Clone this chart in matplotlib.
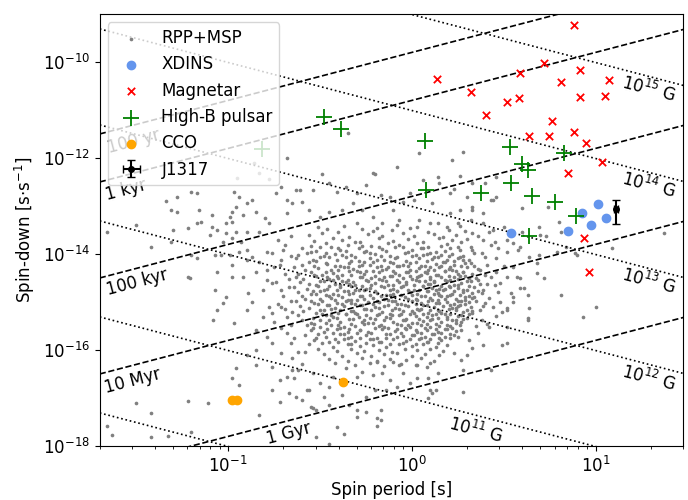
import matplotlib
matplotlib.use('Agg')
import matplotlib.pyplot as plt
import matplotlib.ticker as mticker
import numpy as np

plt.rcParams['font.size'] = 12

# ---- special sources (P [s], Pdot [s/s]) ----
xdins_p = [3.45, 7.06, 8.39, 9.43, 10.31, 11.37]
xdins_pd = [2.8e-14, 2.97e-14, 6.98e-14, 4.1e-14, 1.12e-13, 5.5e-14]

mag_p = [7.68, 5.26, 3.89, 8.18, 1.37, 6.52, 11.9, 2.10, 3.30, 3.84, 8.18,
         11.2, 2.54, 5.82, 4.36, 5.61, 7.68, 8.82, 10.8, 7.12, 8.6, 9.16]
mag_pd = [5.9e-10, 9.5e-11, 5.9e-11, 6.8e-11, 4.4e-11, 3.8e-11, 4.2e-11,
          2.4e-11, 1.47e-11, 1.78e-11, 1.87e-11, 1.96e-11, 7.9e-12, 5.9e-12,
          2.9e-12, 2.9e-12, 3.5e-12, 2.05e-12, 8.3e-13, 4.9e-13, 2.15e-14, 4.2e-15]

highb_p = [0.153, 0.331, 0.414, 1.18, 1.19, 2.38, 3.43, 3.99, 4.30, 3.48,
           4.53, 6.04, 6.77, 7.87, 4.36]
highb_pd = [1.54e-12, 7.1e-12, 4.0e-12, 2.26e-12, 2.15e-13, 1.87e-13, 1.69e-12,
            7.5e-13, 5.6e-13, 3.0e-13, 1.62e-13, 1.21e-13, 1.27e-12, 6.2e-14, 2.37e-14]

cco_p = [0.105, 0.112, 0.424]
cco_pd = [8.9e-18, 9.3e-18, 2.2e-17]

j1317_p, j1317_perr = 12.9, 0.3
j1317_pd, j1317_pderr = 8.8e-14, 4.6e-14

# ---- RPP+MSP population, (log10 P, log10 Pdot) ----
rpp_left = [
    (-1.28, -12.81), (-1.20, -12.71), (-1.17, -12.73), (-1.34, -12.90), (-1.31, -13.08),
    (-1.28, -13.13), (-1.16, -13.08), (-1.09, -13.19), (-0.97, -12.71), (-0.94, -12.81),
    (-0.96, -13.02), (-0.98, -13.13), (-0.90, -12.94), (-0.87, -12.88), (-0.92, -13.19),
    (-0.99, -13.23), (-1.01, -13.35), (-0.98, -13.33), (-0.85, -13.13), (-0.80, -13.25),
    (-0.74, -12.73), (-0.71, -12.60), (-0.63, -12.67), (-0.68, -12.88), (-0.78, -13.35),
    (-0.83, -13.54), (-1.66, -13.54), (-1.50, -13.40), (-1.30, -13.50), (-1.31, -13.75),
    (-1.22, -13.46), (-1.17, -13.35), (-1.15, -13.33), (-1.09, -13.44), (-1.10, -13.60),
    (-1.06, -13.50), (-1.01, -13.56), (-0.96, -13.54), (-0.98, -13.67), (-0.93, -13.75),
    (-0.90, -13.54), (-1.03, -13.75), (-1.07, -14.02), (-1.04, -14.02), (-0.99, -14.02),
    (-1.42, -13.85), (-1.20, -14.02), (-1.17, -14.08), (-1.22, -14.48), (-1.21, -14.50),
    (-0.98, -14.23), (-0.94, -13.96), (-0.90, -13.92), (-0.90, -14.13), (-0.87, -14.06),
    (-0.83, -14.17), (-0.79, -13.96), (-0.76, -13.98), (-0.70, -13.92), (-0.71, -14.13),
    (-0.75, -14.27), (-0.79, -14.33), (-0.85, -14.38), (-0.92, -14.48), (-0.98, -14.48),
    (-1.06, -14.38), (-1.07, -14.75), (-1.01, -14.90), (-1.03, -15.02), (-1.06, -15.17),
    (-1.08, -15.38), (-0.97, -15.44), (-0.90, -15.17), (-0.87, -15.00), (-0.89, -14.81),
    (-0.81, -14.75), (-0.79, -14.54), (-0.76, -14.60), (-0.71, -14.75), (-0.67, -14.69),
    (-0.78, -15.10), (-0.81, -15.31), (-0.76, -15.23), (-0.71, -15.10), (-0.68, -15.31),
    (-0.65, -15.21), (-0.85, -15.58), (-0.79, -15.73), (-0.76, -15.85), (-0.68, -15.65),
    (-0.66, -15.85), (-0.71, -16.06), (-0.65, -16.17), (-0.85, -16.00), (-0.90, -16.10),
    (-0.96, -16.38), (-0.98, -16.58), (-0.94, -16.73), (-0.85, -16.31), (-0.76, -16.35),
    (-0.72, -16.63), (-0.76, -16.83), (-0.68, -16.56), (-0.65, -16.42), (-0.67, -16.90),
    (-0.72, -17.08), (-0.63, -16.98), (-0.83, -17.35), (-1.50, -17.10), (-1.42, -17.31),
    (-1.22, -17.06), (-1.11, -17.10), (-1.63, -17.77), (-1.42, -17.81), (-1.33, -17.79),
    (-1.66, -17.58), (-1.20, -17.71), (-0.68, -12.00), (-0.86, -12.10), (-0.83, -12.31),
    (-0.78, -12.44), (-0.95, -12.42),
]

rpp_upper = [
    (0.04, -11.90), (-0.08, -12.19), (0.28, -11.88), (0.22, -12.04), (0.26, -12.38),
    (-0.49, -12.33), (-0.20, -12.33), (-0.35, -11.48), (0.33, -12.52), (0.15, -12.52),
    (0.14, -12.40), (0.06, -12.46), (0.23, -12.65), (0.30, -12.81), (0.40, -12.52),
    (0.46, -12.81), (0.43, -12.88), (0.33, -13.08), (0.26, -13.08), (0.21, -13.15),
    (0.11, -12.94), (0.01, -12.88), (-0.01, -12.73), (-0.05, -12.92), (-0.12, -12.81),
    (-0.17, -12.77), (-0.21, -12.31), (-0.25, -12.56), (-0.30, -12.73), (-0.36, -12.60),
    (-0.41, -12.71), (-0.45, -12.52), (-0.54, -12.67), (-0.61, -12.67), (-0.65, -12.94),
    (-0.60, -12.92), (-0.68, -13.15), (-0.56, -13.08), (-0.50, -13.23), (-0.45, -13.13),
    (-0.38, -13.08), (-0.32, -12.94), (-0.27, -13.08), (-0.21, -13.23), (-0.16, -13.35),
    (-0.10, -13.08), (-0.07, -13.29), (0.04, -13.29), (0.10, -13.35), (0.19, -13.44),
    (0.25, -13.35), (0.32, -13.29), (0.39, -13.35), (0.44, -13.50), (0.50, -13.44),
    (0.52, -13.71), (0.21, -12.73), (0.33, -13.02), (0.39, -13.15), (0.46, -12.40),
    (0.44, -12.88), (0.60, -13.04), (0.74, -13.02),
]

rpp_right = [
    (0.80, -13.33), (0.70, -13.60), (0.60, -13.54), (0.58, -13.92), (0.52, -13.96),
    (0.64, -14.06), (0.68, -14.19), (0.55, -14.27), (0.52, -14.48), (0.57, -14.48),
    (0.68, -14.40), (0.72, -14.50), (0.59, -14.71), (0.54, -14.81), (0.63, -14.85),
    (0.49, -15.21), (0.52, -15.17), (0.63, -15.38), (0.52, -15.52), (0.49, -15.90),
    (0.52, -15.85), (0.30, -16.10), (0.23, -16.06), (0.28, -16.42), (0.14, -16.48),
    (0.13, -16.83), (0.28, -16.88), (0.43, -16.42), (0.81, -14.85), (0.90, -14.02),
    (0.79, -13.96), (0.39, -13.71), (0.43, -13.81), (0.33, -13.92), (0.40, -14.06),
    (0.46, -14.08), (0.45, -13.75), (0.32, -14.19), (0.37, -14.33), (0.43, -14.48),
    (0.36, -14.54), (0.45, -14.65), (0.39, -14.75), (0.34, -14.90), (0.42, -14.92),
    (0.44, -15.10), (0.37, -15.17), (0.33, -15.23), (0.38, -15.38), (0.42, -15.52),
    (0.36, -15.65), (0.31, -15.79), (0.25, -15.73), (0.27, -15.58), (0.39, -15.90),
    (0.69, -13.44), (0.73, -13.63), (0.81, -13.54), (0.84, -13.85), (0.89, -13.98),
    (1.09, -13.88), (1.37, -13.56), (0.55, -13.77), (0.59, -13.85), (0.69, -14.02),
    (0.59, -14.50), (0.61, -14.71), (0.55, -14.90), (0.55, -15.00), (0.52, -15.13),
    (0.64, -15.13), (0.63, -15.33), (0.93, -15.31), (1.00, -15.10),
]

rpp_lower = [
    (-0.64, -16.58), (-0.58, -16.04), (-0.57, -16.83), (-0.60, -17.04), (-0.55, -17.19),
    (-0.52, -17.25), (-0.48, -16.98), (-0.45, -17.15), (-0.38, -16.94), (-0.34, -17.15),
    (-0.30, -17.40), (-0.25, -17.29), (-0.19, -17.42), (-0.19, -17.58), (-0.37, -17.75),
    (-0.45, -17.96), (-0.52, -17.81), (-0.25, -16.98), (-0.20, -16.83), (-0.12, -16.63),
    (-0.05, -16.48), (0.03, -16.58), (0.09, -16.58), (0.08, -16.35), (0.03, -16.31),
    (-0.07, -16.31), (-0.16, -16.48), (-0.21, -16.52), (-0.30, -16.56), (-0.45, -16.77),
    (-0.50, -16.69), (-0.56, -16.83), (-0.62, -16.42), (-0.54, -16.48), (-0.43, -16.56),
    (-0.36, -16.38), (-0.27, -16.46), (-0.19, -16.25), (-0.10, -16.25), (-0.14, -16.83),
    (-0.08, -16.77), (-0.01, -16.69), (0.10, -16.83), (0.11, -16.90), (0.09, -17.00),
    (-0.17, -17.25), (-0.17, -17.46), (-0.54, -17.21), (-0.41, -17.60), (-0.30, -17.25),
]

# points along the left and right edge of the dense core
rpp_edge = [
    (-0.66, -14.05), (-0.72, -14.22), (-0.69, -14.41), (-0.74, -14.58), (-0.67, -14.52),
    (-0.70, -14.88), (-0.66, -14.97), (-0.73, -15.04), (-0.69, -15.15), (-0.75, -15.42),
    (-0.66, -15.47), (-0.71, -15.55), (-0.64, -15.75), (-0.69, -13.81), (-0.73, -13.70),
    (-0.66, -13.62), (-0.62, -16.05), (-0.60, -16.30),
    (0.38, -13.97), (0.41, -14.22), (0.46, -14.37), (0.40, -14.44), (0.48, -14.60),
    (0.41, -14.63), (0.38, -14.82), (0.47, -14.80), (0.40, -15.02), (0.48, -15.00),
    (0.39, -15.09), (0.46, -15.30), (0.41, -15.45), (0.35, -15.50), (0.33, -15.95),
    (0.27, -16.20), (0.50, -14.25), (0.36, -13.62), (0.42, -13.55), (0.47, -13.88),
]

# dense core, row by row
core_lp = [
    [-0.51, -0.37, -0.30, -0.19, -0.08, 0.03, 0.14, 0.26],
    [-0.46, -0.40, -0.27, -0.21, -0.11, -0.01, 0.09, 0.20, 0.29],
    [-0.56, -0.49, -0.34, -0.24, -0.16, -0.05, 0.01, 0.12, 0.17, 0.24, 0.33],
    [-0.53, -0.43, -0.38, -0.28, -0.18, -0.10, -0.02, 0.06, 0.15, 0.22, 0.30],
    [-0.55, -0.47, -0.35, -0.31, -0.22, -0.13, -0.07, 0.03, 0.09, 0.19, 0.27],
    [-0.60, -0.52, -0.44, -0.39, -0.29, -0.25, -0.16, -0.09, 0.00, 0.05, 0.13, 0.21, 0.26, 0.32],
    [-0.62, -0.57, -0.48, -0.42, -0.33, -0.26, -0.20, -0.12, -0.04, 0.02, 0.10, 0.16, 0.22, 0.28, 0.34],
    [-0.63, -0.54, -0.50, -0.41, -0.36, -0.29, -0.23, -0.15, -0.08, -0.03, 0.04, 0.11, 0.14, 0.19, 0.25, 0.31],
    [-0.60, -0.56, -0.46, -0.39, -0.34, -0.27, -0.21, -0.17, -0.10, -0.05, 0.02, 0.07, 0.13, 0.18, 0.23, 0.29, 0.34],
    [-0.64, -0.58, -0.51, -0.44, -0.37, -0.32, -0.25, -0.19, -0.14, -0.07, -0.01, 0.04, 0.09, 0.15, 0.20, 0.24, 0.30, 0.36],
    [-0.62, -0.55, -0.49, -0.43, -0.38, -0.30, -0.26, -0.18, -0.12, -0.09, -0.02, 0.05, 0.08, 0.13, 0.18, 0.25, 0.28, 0.33],
    [-0.63, -0.59, -0.52, -0.45, -0.40, -0.35, -0.28, -0.22, -0.16, -0.11, -0.05, 0.00, 0.03, 0.10, 0.16, 0.21, 0.26, 0.31, 0.35],
    [-0.61, -0.56, -0.48, -0.42, -0.36, -0.31, -0.24, -0.20, -0.13, -0.07, -0.03, 0.04, 0.09, 0.12, 0.19, 0.23, 0.27, 0.32, 0.37],
    [-0.64, -0.57, -0.51, -0.46, -0.39, -0.33, -0.29, -0.23, -0.17, -0.10, -0.06, 0.01, 0.06, 0.11, 0.15, 0.20, 0.25, 0.30, 0.34],
    [-0.62, -0.55, -0.50, -0.43, -0.37, -0.32, -0.26, -0.19, -0.14, -0.08, -0.01, 0.03, 0.08, 0.14, 0.17, 0.22, 0.28, 0.33, 0.36],
    [-0.60, -0.58, -0.47, -0.44, -0.38, -0.30, -0.27, -0.21, -0.15, -0.12, -0.04, 0.02, 0.07, 0.10, 0.16, 0.21, 0.24, 0.29, 0.33],
    [-0.63, -0.53, -0.49, -0.41, -0.35, -0.31, -0.24, -0.18, -0.11, -0.06, 0.00, 0.05, 0.11, 0.13, 0.19, 0.23, 0.27, 0.31, 0.35],
    [-0.61, -0.56, -0.46, -0.42, -0.37, -0.28, -0.25, -0.20, -0.13, -0.09, -0.02, 0.03, 0.06, 0.12, 0.17, 0.22, 0.26, 0.32],
    [-0.59, -0.52, -0.48, -0.40, -0.33, -0.30, -0.22, -0.16, -0.12, -0.05, 0.01, 0.04, 0.09, 0.15, 0.18, 0.24, 0.28, 0.33],
    [-0.62, -0.54, -0.47, -0.43, -0.36, -0.29, -0.23, -0.19, -0.14, -0.07, -0.03, 0.02, 0.08, 0.13, 0.19, 0.25, 0.30],
    [-0.60, -0.55, -0.45, -0.39, -0.34, -0.27, -0.21, -0.15, -0.10, -0.04, 0.00, 0.06, 0.11, 0.16, 0.22, 0.27],
    [-0.57, -0.50, -0.44, -0.37, -0.31, -0.26, -0.18, -0.13, -0.06, -0.01, 0.05, 0.10, 0.15, 0.21, 0.26],
    [-0.55, -0.48, -0.41, -0.35, -0.28, -0.22, -0.16, -0.09, -0.03, 0.03, 0.08, 0.14, 0.19, 0.24],
    [-0.58, -0.47, -0.39, -0.33, -0.25, -0.19, -0.12, -0.05, 0.01, 0.07, 0.12, 0.18, 0.23],
    [-0.53, -0.45, -0.37, -0.31, -0.23, -0.17, -0.10, -0.03, 0.04, 0.09, 0.16, 0.21],
    [-0.56, -0.43, -0.35, -0.28, -0.21, -0.14, -0.07, 0.00, 0.06, 0.13, 0.19],
    [-0.51, -0.41, -0.33, -0.26, -0.18, -0.11, -0.04, 0.03, 0.10, 0.17],
    [-0.48, -0.38, -0.30, -0.22, -0.15, -0.08, 0.00, 0.07, 0.15],
    [-0.45, -0.35, -0.27, -0.19, -0.12, -0.03, 0.05, 0.12],
    [-0.42, -0.31, -0.23, -0.15, -0.06, 0.02, 0.10],
]
core_lpd = [
    [-13.44, -13.41, -13.35, -13.46, -13.39, -13.43, -13.36, -13.42],
    [-13.48, -13.55, -13.47, -13.53, -13.50, -13.46, -13.54, -13.49, -13.52],
    [-13.61, -13.57, -13.64, -13.59, -13.63, -13.56, -13.62, -13.58, -13.65, -13.60, -13.57],
    [-13.73, -13.66, -13.71, -13.74, -13.67, -13.72, -13.69, -13.75, -13.66, -13.71, -13.68],
    [-13.83, -13.77, -13.82, -13.76, -13.84, -13.78, -13.81, -13.77, -13.85, -13.80, -13.76],
    [-13.88, -13.93, -13.86, -13.91, -13.87, -13.94, -13.90, -13.86, -13.92, -13.88, -13.95, -13.87, -13.91, -13.85],
    [-14.02, -13.97, -14.04, -13.99, -14.03, -13.96, -14.01, -14.05, -13.98, -14.03, -13.97, -14.02, -13.99, -14.04, -13.98],
    [-14.08, -14.13, -14.07, -14.12, -14.06, -14.14, -14.09, -14.12, -14.07, -14.15, -14.08, -14.11, -14.06, -14.13, -14.09, -14.12],
    [-14.22, -14.17, -14.21, -14.25, -14.18, -14.23, -14.16, -14.24, -14.19, -14.22, -14.17, -14.25, -14.20, -14.16, -14.23, -14.18, -14.24],
    [-14.27, -14.33, -14.29, -14.34, -14.27, -14.31, -14.35, -14.28, -14.32, -14.26, -14.34, -14.29, -14.33, -14.27, -14.31, -14.35, -14.28, -14.32],
    [-14.41, -14.37, -14.44, -14.39, -14.43, -14.36, -14.42, -14.38, -14.45, -14.40, -14.37, -14.43, -14.39, -14.44, -14.36, -14.42, -14.38, -14.41],
    [-14.48, -14.53, -14.46, -14.52, -14.49, -14.55, -14.47, -14.51, -14.54, -14.46, -14.50, -14.53, -14.47, -14.52, -14.48, -14.55, -14.46, -14.51, -14.49],
    [-14.59, -14.63, -14.57, -14.62, -14.58, -14.64, -14.56, -14.61, -14.65, -14.58, -14.62, -14.57, -14.63, -14.59, -14.56, -14.64, -14.60, -14.57, -14.62],
    [-14.68, -14.72, -14.66, -14.73, -14.69, -14.67, -14.74, -14.70, -14.66, -14.72, -14.68, -14.75, -14.67, -14.71, -14.73, -14.66, -14.70, -14.74, -14.68],
    [-14.79, -14.83, -14.77, -14.84, -14.78, -14.82, -14.76, -14.81, -14.85, -14.77, -14.80, -14.84, -14.78, -14.82, -14.76, -14.83, -14.79, -14.81, -14.77],
    [-14.88, -14.93, -14.86, -14.92, -14.89, -14.95, -14.87, -14.91, -14.94, -14.86, -14.90, -14.93, -14.87, -14.92, -14.88, -14.85, -14.94, -14.89, -14.91],
    [-14.98, -15.03, -14.97, -15.02, -14.96, -15.04, -14.99, -15.01, -14.97, -15.05, -14.98, -15.02, -14.96, -15.03, -14.99, -15.04, -14.97, -15.01, -14.98],
    [-15.08, -15.12, -15.07, -15.13, -15.09, -15.06, -15.14, -15.10, -15.07, -15.12, -15.08, -15.14, -15.06, -15.11, -15.09, -15.13, -15.07, -15.10],
    [-15.19, -15.23, -15.17, -15.22, -15.18, -15.24, -15.16, -15.21, -15.25, -15.18, -15.22, -15.17, -15.23, -15.19, -15.24, -15.17, -15.21, -15.19],
    [-15.28, -15.33, -15.27, -15.32, -15.26, -15.31, -15.34, -15.28, -15.32, -15.27, -15.35, -15.29, -15.32, -15.26, -15.31, -15.29, -15.33],
    [-15.38, -15.43, -15.37, -15.42, -15.36, -15.41, -15.44, -15.38, -15.42, -15.37, -15.43, -15.39, -15.36, -15.42, -15.38, -15.41],
    [-15.48, -15.52, -15.47, -15.53, -15.49, -15.46, -15.51, -15.54, -15.48, -15.52, -15.47, -15.53, -15.49, -15.51, -15.47],
    [-15.58, -15.62, -15.57, -15.63, -15.59, -15.64, -15.57, -15.61, -15.56, -15.62, -15.58, -15.63, -15.57, -15.61],
    [-15.68, -15.73, -15.67, -15.72, -15.69, -15.74, -15.66, -15.71, -15.68, -15.73, -15.67, -15.72, -15.69],
    [-15.79, -15.83, -15.77, -15.82, -15.78, -15.84, -15.77, -15.81, -15.78, -15.83, -15.79, -15.76],
    [-15.88, -15.93, -15.87, -15.92, -15.89, -15.94, -15.87, -15.91, -15.88, -15.93, -15.89],
    [-15.98, -16.03, -15.97, -16.02, -15.99, -16.04, -15.97, -16.01, -15.98, -16.03],
    [-16.08, -16.12, -16.07, -16.13, -16.09, -16.06, -16.12, -16.08, -16.11],
    [-16.18, -16.22, -16.17, -16.23, -16.19, -16.21, -16.17, -16.22],
    [-16.28, -16.32, -16.27, -16.33, -16.29, -16.31, -16.27],
]

# the densest part of the core, between the rows above
inner_lp = [
    [-0.50, -0.40, -0.27, -0.18, -0.05, 0.06, 0.16, 0.25],
    [-0.55, -0.47, -0.36, -0.23, -0.14, -0.02, 0.08, 0.18],
    [-0.45, -0.38, -0.31, -0.17, -0.09, 0.00, 0.06, 0.12, 0.20, 0.26],
    [-0.52, -0.47, -0.33, -0.26, -0.19, -0.12, -0.01, 0.08, 0.17, 0.23, 0.28],
    [-0.53, -0.42, -0.35, -0.29, -0.23, -0.13, -0.08, -0.02, 0.05, 0.10, 0.16, 0.21, 0.27],
    [-0.47, -0.40, -0.34, -0.28, -0.21, -0.16, -0.10, -0.03, 0.02, 0.07, 0.12, 0.18, 0.22, 0.28],
    [-0.53, -0.46, -0.41, -0.33, -0.27, -0.20, -0.15, -0.07, -0.01, 0.04, 0.10, 0.14, 0.20, 0.23, 0.29],
    [-0.50, -0.43, -0.38, -0.32, -0.25, -0.18, -0.14, -0.08, -0.03, 0.02, 0.07, 0.12, 0.18, 0.25, 0.30],
    [-0.52, -0.45, -0.39, -0.34, -0.27, -0.22, -0.15, -0.10, -0.05, 0.01, 0.06, 0.10, 0.16, 0.21, 0.25, 0.31],
    [-0.54, -0.48, -0.41, -0.35, -0.31, -0.25, -0.20, -0.12, -0.08, -0.02, 0.04, 0.09, 0.13, 0.18, 0.23, 0.28],
    [-0.52, -0.45, -0.40, -0.34, -0.28, -0.23, -0.17, -0.10, -0.06, 0.00, 0.05, 0.12, 0.15, 0.19, 0.26, 0.31],
    [-0.55, -0.50, -0.42, -0.36, -0.33, -0.26, -0.19, -0.13, -0.09, -0.02, 0.03, 0.09, 0.14, 0.18, 0.25, 0.29],
    [-0.51, -0.45, -0.38, -0.33, -0.27, -0.21, -0.15, -0.08, -0.04, 0.02, 0.08, 0.15, 0.21, 0.25, 0.29],
    [-0.50, -0.44, -0.39, -0.32, -0.26, -0.18, -0.11, -0.07, 0.00, 0.05, 0.10, 0.14, 0.20, 0.24, 0.30],
    [-0.49, -0.44, -0.36, -0.31, -0.25, -0.18, -0.11, -0.06, -0.01, 0.06, 0.11, 0.16, 0.21, 0.27, 0.31],
    [-0.50, -0.41, -0.32, -0.26, -0.20, -0.12, -0.05, 0.04, 0.10, 0.14, 0.19, 0.24, 0.28],
    [-0.53, -0.47, -0.40, -0.33, -0.24, -0.17, -0.08, -0.02, 0.03, 0.08, 0.13, 0.19, 0.24],
    [-0.54, -0.46, -0.39, -0.34, -0.28, -0.20, -0.15, -0.08, -0.04, 0.02, 0.07, 0.13, 0.18, 0.22],
    [-0.51, -0.43, -0.37, -0.30, -0.24, -0.14, -0.06, 0.00, 0.05, 0.11, 0.16, 0.21],
    [-0.52, -0.42, -0.35, -0.28, -0.21, -0.14, -0.08, -0.01, 0.05, 0.10, 0.15],
    [-0.49, -0.40, -0.33, -0.25, -0.18, -0.12, -0.05, 0.02, 0.08, 0.14],
]
inner_lpd = [
    [-13.85, -13.87, -13.84, -13.86, -13.85, -13.87, -13.84, -13.86],
    [-13.95, -13.98, -13.93, -13.97, -13.94, -13.96, -13.99, -13.93],
    [-14.07, -14.03, -14.06, -14.04, -14.08, -14.05, -14.02, -14.07, -14.04, -14.06],
    [-14.14, -14.18, -14.15, -14.17, -14.13, -14.16, -14.18, -14.14, -14.17, -14.15, -14.13],
    [-14.26, -14.24, -14.27, -14.25, -14.23, -14.27, -14.25, -14.26, -14.24, -14.27, -14.25, -14.28, -14.24],
    [-14.37, -14.34, -14.36, -14.38, -14.35, -14.33, -14.36, -14.38, -14.35, -14.37, -14.34, -14.36, -14.33, -14.37],
    [-14.44, -14.47, -14.45, -14.43, -14.47, -14.45, -14.48, -14.44, -14.46, -14.45, -14.47, -14.44, -14.46, -14.48, -14.45],
    [-14.57, -14.54, -14.56, -14.58, -14.55, -14.53, -14.57, -14.55, -14.58, -14.54, -14.56, -14.57, -14.55, -14.53, -14.57],
    [-14.64, -14.67, -14.65, -14.63, -14.67, -14.65, -14.68, -14.64, -14.66, -14.65, -14.67, -14.63, -14.66, -14.68, -14.65, -14.67],
    [-14.77, -14.74, -14.76, -14.78, -14.75, -14.73, -14.77, -14.75, -14.78, -14.74, -14.76, -14.77, -14.75, -14.73, -14.77, -14.76],
    [-14.84, -14.87, -14.85, -14.83, -14.87, -14.85, -14.88, -14.84, -14.86, -14.85, -14.87, -14.83, -14.86, -14.88, -14.85, -14.87],
    [-14.97, -14.94, -14.96, -14.98, -14.95, -14.93, -14.97, -14.95, -14.98, -14.94, -14.96, -14.97, -14.95, -14.93, -14.97, -14.96],
    [-15.04, -15.07, -15.05, -15.03, -15.07, -15.05, -15.08, -15.04, -15.06, -15.05, -15.07, -15.03, -15.06, -15.08, -15.05],
    [-15.17, -15.14, -15.16, -15.18, -15.15, -15.13, -15.17, -15.15, -15.18, -15.14, -15.16, -15.17, -15.15, -15.13, -15.17],
    [-15.24, -15.27, -15.25, -15.23, -15.27, -15.25, -15.28, -15.24, -15.26, -15.25, -15.27, -15.23, -15.26, -15.28, -15.25],
    [-15.37, -15.34, -15.36, -15.38, -15.35, -15.33, -15.37, -15.35, -15.38, -15.34, -15.36, -15.37, -15.35],
    [-15.46, -15.44, -15.47, -15.45, -15.43, -15.47, -15.45, -15.48, -15.44, -15.46, -15.45, -15.47, -15.43],
    [-15.55, -15.57, -15.54, -15.56, -15.58, -15.55, -15.53, -15.57, -15.55, -15.58, -15.54, -15.56, -15.57, -15.55],
    [-15.66, -15.64, -15.67, -15.65, -15.63, -15.67, -15.65, -15.68, -15.64, -15.66, -15.65, -15.67],
    [-15.75, -15.77, -15.74, -15.76, -15.78, -15.75, -15.73, -15.77, -15.75, -15.78, -15.74],
    [-15.86, -15.84, -15.87, -15.85, -15.83, -15.87, -15.85, -15.88, -15.84, -15.86],
]

# reference lines
ages_yr = [1e2, 1e3, 1e5, 1e7, 1e9]
age_labels = ['100 yr', '1 kyr', '100 kyr', '10 Myr', '1 Gyr']
age_label_pos = [(0.0306, 10**-11.65), (0.0277, 10**-12.67), (0.0318, 10**-14.60),
                 (0.0303, 10**-16.65), (0.215, 10**-17.75)]
bfields = [1e10, 1e11, 1e12, 1e13, 1e14, 1e15]
b_labels = {1e11: (2.24, 10**-17.67), 1e12: (19.5, 10**-16.58), 1e13: (19.5, 10**-14.56),
            1e14: (19.5, 10**-12.56), 1e15: (19.5, 10**-10.56)}

YR = 3.156e7

fig = plt.figure(figsize=(6.88, 5.0), dpi=100)
ax = fig.add_axes([0.145, 0.108, 0.848, 0.864])
ax.set_xscale('log')
ax.set_yscale('log')
ax.set_xlim(0.02, 30)
ax.set_ylim(1e-18, 1e-9)
ax.set_yticks([1e-18, 1e-16, 1e-14, 1e-12, 1e-10])
ax.yaxis.set_minor_locator(mticker.NullLocator())

pgrid = np.array([0.02, 30])
for tau in ages_yr:
    ax.plot(pgrid, pgrid / (2 * tau * YR), 'k--', lw=1.2, zorder=1.5)
for b in bfields:
    ax.plot(pgrid, (b / 3.2e19) ** 2 / pgrid, 'k:', lw=1.2, zorder=1.5)

ang = np.degrees(np.arctan(48.0 / 183.0))
for lab, (px, py) in zip(age_labels, age_label_pos):
    ax.text(px, py, lab, rotation=ang, ha='center', va='center', fontsize=12)
for b, (px, py) in b_labels.items():
    ax.text(px, py, r'$10^{%d}$ G' % round(np.log10(b)), rotation=-ang,
            ha='center', va='center', fontsize=12)

fringe = rpp_left + rpp_upper + rpp_right + rpp_lower + rpp_edge
lp = ([p for p, _ in fringe] + [v for row in core_lp for v in row]
      + [v for row in inner_lp for v in row])
lpd = ([d for _, d in fringe] + [v for row in core_lpd for v in row]
       + [v for row in inner_lpd for v in row])
h_rpp = ax.scatter(10 ** np.array(lp), 10 ** np.array(lpd), s=7, color='grey',
                   linewidths=0, zorder=1, label='RPP+MSP')

h_x = ax.scatter(xdins_p, xdins_pd, s=36, color='cornflowerblue', zorder=3, label='XDINS')
h_m = ax.scatter(mag_p, mag_pd, s=28, marker='x', color='red', linewidths=1.3,
                 zorder=3, label='Magnetar')
h_h = ax.scatter(highb_p, highb_pd, s=120, marker='+', color='green', linewidths=1.3,
                 zorder=3, label='High-B pulsar')
h_c = ax.scatter(cco_p, cco_pd, s=36, color='orange', zorder=3, label='CCO')
h_j = ax.errorbar(j1317_p, j1317_pd, xerr=j1317_perr, yerr=j1317_pderr, fmt='o',
                  color='black', ms=4, capsize=3, elinewidth=1.5, zorder=4, label='J1317')

ax.set_xlabel('Spin period [s]')
ax.set_ylabel(r'Spin-down [s$\cdot$s$^{-1}$]')
ax.legend(handles=[h_rpp, h_x, h_m, h_h, h_c, h_j], loc='upper left', fontsize=12)

fig.savefig('out.png', dpi=100)
